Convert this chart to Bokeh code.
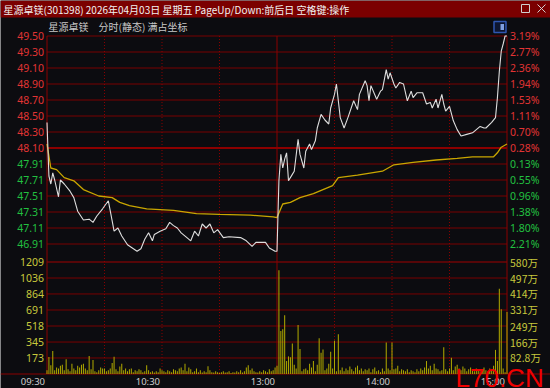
from bokeh.plotting import figure
from bokeh.models import Range1d
from bokeh.core.properties import value
from bokeh.embed import file_html
from bokeh.resources import INLINE

# ---------------- data ----------------
title_text = "星源卓镁(301398) 2026年04月03日 星期五 PageUp/Down:前后日 空格键:操作"
subtitle_text = "星源卓镁\u3000分时(静态) 满占坐标"
watermark_text = "L70.CN"

price_ticks = [49.50, 49.30, 49.10, 48.90, 48.70, 48.50, 48.30, 48.10,
               47.90, 47.70, 47.50, 47.30, 47.10, 46.90]
price_labels = ["49.50", "49.30", "49.10", "48.90", "48.70", "48.50", "48.30", "48.10",
                "47.91", "47.71", "47.51", "47.31", "47.11", "46.91"]
pct_labels = ["3.19%", "2.77%", "2.36%", "1.94%", "1.53%", "1.11%", "0.70%", "0.28%",
              "0.13%", "0.55%", "0.96%", "1.38%", "1.80%", "2.21%"]
price_up = [True] * 8 + [False] * 6
base_price = 48.10

vol_ticks = [1209, 1036, 864, 691, 518, 345, 173]
vol_labels_left = ["1209", "1036", "864", "691", "518", "345", "173"]
vol_labels_right = ["580万", "497万", "414万", "331万", "249万", "166万", "82.8万"]

time_ticks = [0, 60, 120, 180, 240]
time_labels = ["09:30", "10:30", "13:00", "14:00", "15:00"]
half_hour_lines = [30, 60, 90, 150, 180, 210]
session_edges = [0, 120, 240]

# (minute since 09:30, price)
price_points = [
    (0, 48.42), (1, 47.75), (2, 47.65), (3, 47.79), (4, 47.70), (6, 47.49), (7, 47.70),
    (9, 47.65), (12, 47.56), (14, 47.48), (16, 47.31), (19, 47.20), (22, 47.21),
    (24, 47.17), (26, 47.25), (29, 47.34), (32, 47.44), (34, 47.19), (35, 47.06),
    (37, 47.10), (39, 47.00), (42, 46.89), (47, 46.81), (49, 46.84), (51, 46.96),
    (53, 47.04), (55, 46.94), (56, 47.02), (59, 47.06), (62, 47.09), (64, 47.17),
    (66, 47.13), (68, 47.10), (70, 47.04), (73, 46.98), (75, 46.94), (77, 47.06),
    (79, 47.00), (81, 47.15), (83, 47.10), (85, 47.15), (87, 47.04), (89, 47.08),
    (92, 46.98), (95, 46.99), (101, 46.98), (104, 46.94), (107, 46.87), (109, 46.92),
    (114, 46.92), (116, 46.85), (119, 46.81), (120, 46.81),
    (121, 47.69), (122, 48.02), (123, 47.85), (124, 47.96), (125, 48.04), (126, 47.69),
    (128, 47.77), (129, 47.81), (131, 48.21), (132, 48.02), (134, 47.85), (135, 48.06),
    (137, 48.15), (138, 48.08), (140, 48.19), (141, 48.35), (143, 48.52), (145, 48.45),
    (147, 48.40), (148, 48.60), (150, 48.77), (151, 48.90), (153, 48.48), (155, 48.35),
    (157, 48.48), (160, 48.69), (162, 48.58), (163, 48.77), (166, 48.94), (167, 48.88),
    (168, 48.69), (169, 48.88), (172, 48.71), (174, 48.81), (175, 48.83), (177, 49.08),
    (178, 48.96), (179, 49.04), (181, 48.90), (182, 48.85), (184, 48.92), (186, 48.90),
    (188, 48.69), (190, 48.81), (191, 48.73), (193, 48.79), (196, 48.79), (198, 48.65),
    (200, 48.67), (201, 48.60), (203, 48.71), (204, 48.60), (206, 48.77), (207, 48.65),
    (208, 48.56), (210, 48.62), (212, 48.44), (214, 48.33), (216, 48.25), (219, 48.27),
    (222, 48.29), (224, 48.33), (226, 48.37), (228, 48.35), (229, 48.35), (232, 48.42),
    (234, 48.48), (235, 48.73), (236, 49.06), (237, 49.31), (238, 49.40), (239, 49.50),
    (240, 49.50),
]
price_minute = [m for m, _ in price_points]
price_value = [v for _, v in price_points]

avg_minute = [0, 2, 5, 9, 14, 19, 27, 34, 38, 43, 52, 66, 78, 90, 106, 118, 120,
              123, 127, 132, 139, 144, 149, 152, 162, 175, 181, 191, 203, 214, 222,
              233, 235, 237, 240]
avg_value = [48.15, 47.85, 47.83, 47.73, 47.69, 47.58, 47.50, 47.48, 47.42, 47.38,
             47.34, 47.32, 47.28, 47.27, 47.26, 47.24, 47.23,
             47.40, 47.42, 47.48, 47.53, 47.58, 47.63, 47.73, 47.76, 47.81, 47.89,
             47.92, 47.95, 47.97, 47.99, 47.99, 48.04, 48.11, 48.15]

volume = [
    40, 184, 95, 248, 40, 70, 60, 90, 100, 40,
    160, 50, 30, 110, 60, 40, 90, 70, 100, 110,
    60, 40, 195, 50, 150, 30, 20, 40, 70, 60,
    60, 30, 40, 60, 120, 185, 50, 30, 80, 110,
    40, 60, 30, 50, 60, 20, 40, 30, 50, 40,
    20, 30, 95, 40, 20, 30, 15, 30, 20, 60,
    40, 30, 20, 40, 30, 20, 50, 40, 30, 60,
    70, 40, 110, 30, 70, 50, 20, 30, 60, 20,
    40, 15, 30, 20, 85, 40, 20, 15, 30, 20,
    10, 20, 30, 15, 20, 30, 10, 20, 15, 30,
    20, 40, 15, 30, 70, 95, 40, 60, 30, 20,
    15, 30, 20, 40, 30, 20, 50, 30, 40, 70,
    90, 1119, 464, 483, 634, 140, 190, 180, 330, 100,
    60, 530, 270, 30, 50, 60, 40, 110, 70, 140,
    30, 100, 385, 230, 265, 40, 60, 110, 240, 60,
    360, 30, 430, 40, 70, 30, 60, 40, 80, 50,
    30, 70, 90, 40, 60, 30, 50, 40, 60, 20,
    50, 70, 30, 40, 20, 60, 30, 340, 60, 40,
    340, 50, 60, 90, 30, 50, 40, 30, 50, 20,
    40, 30, 20, 50, 30, 60, 40, 70, 140, 60,
    90, 40, 110, 60, 50, 30, 40, 290, 50, 30,
    60, 175, 40, 80, 100, 60, 40, 80, 60, 30,
    50, 70, 40, 30, 60, 40, 30, 50, 70, 40,
    30, 60, 40, 90, 260, 140, 920, 700, 60, 20,
    670,
]
vol_minute = list(range(len(volume)))

# ---------------- layout / style ----------------
W, H = 550, 388
FRAME_L, FRAME_R = 46.5, 506.5
SESSION_MIN = 240
PRICE_TOP_PX = 35.5
PRICE_PX_PER_UNIT = 80.0
VOL_BASE_PX = 373.5
VOL_TOP_PX = 261.5
TITLE_H = 17

BG = "#0c0c10"
TITLE_BG = "#7b0000"
GRID = "#780000"
FRAME = "#8a0000"
RED = "#e23434"
GREEN = "#22c040"
YELLOW = "#c8c83c"
LIGHT = "#cfcfcf"

ppm = (FRAME_R - FRAME_L) / SESSION_MIN


def mx(px):
    return (px - FRAME_L) / ppm


vol_px_per_unit = (VOL_BASE_PX - VOL_TOP_PX) / vol_ticks[0]
top_price = price_ticks[0]

x_range = Range1d(mx(0), mx(W))
y_px = Range1d(H, 0)
price_rng = Range1d(top_price - (H - PRICE_TOP_PX) / PRICE_PX_PER_UNIT,
                    top_price + PRICE_TOP_PX / PRICE_PX_PER_UNIT)
vol_rng = Range1d(-(H - VOL_BASE_PX) / vol_px_per_unit, VOL_BASE_PX / vol_px_per_unit)

p = figure(width=W, height=H, x_range=x_range, y_range=y_px,
           x_axis_type=None, y_axis_type=None, toolbar_location=None,
           output_backend="svg", min_border=0)
p.extra_y_ranges = {"price": price_rng, "vol": vol_rng}
p.background_fill_color = BG
p.border_fill_color = BG
p.outline_line_color = None

# header bar
p.quad(left=mx(0), right=mx(W), top=0, bottom=TITLE_H, fill_color=TITLE_BG, line_color=None)

# horizontal grid: price panel
p.segment(x0=0, x1=SESSION_MIN, y0=price_ticks, y1=price_ticks, y_range_name="price",
          line_color=GRID, line_width=1)
p.segment(x0=0, x1=SESSION_MIN, y0=base_price, y1=base_price, y_range_name="price",
          line_color="#8c0000", line_width=2)
# horizontal grid: volume panel
p.segment(x0=0, x1=SESSION_MIN, y0=vol_ticks[1:], y1=vol_ticks[1:], y_range_name="vol",
          line_color=GRID, line_width=1)
p.segment(x0=0, x1=SESSION_MIN, y0=vol_ticks[0], y1=vol_ticks[0], y_range_name="vol",
          line_color="#a00000", line_width=1)
p.segment(x0=mx(0), x1=mx(W), y0=0, y1=0, y_range_name="vol",
          line_color=FRAME, line_width=1)

# vertical lines
p.segment(x0=half_hour_lines, x1=half_hour_lines, y0=PRICE_TOP_PX, y1=VOL_BASE_PX,
          line_color="#8a0000", line_width=1, line_dash="1 2")
p.segment(x0=session_edges, x1=session_edges, y0=PRICE_TOP_PX, y1=VOL_BASE_PX,
          line_color=FRAME, line_width=1)

# volume bars
p.vbar(x=vol_minute, top=volume, bottom=0, width=0.55, y_range_name="vol",
       fill_color="#aaa400", line_color=None)

# average and price lines
p.line(avg_minute, avg_value, y_range_name="price", line_color="#c9a600", line_width=1.3)
p.line(price_minute, price_value, y_range_name="price", line_color="#dedede", line_width=1.1)

num_font = value("Noto Sans")
cjk_font = value("Noto Sans CJK SC")
price_colors = [RED if up else GREEN for up in price_up]

# price axis labels
p.text(x=[0] * len(price_ticks), y=price_ticks, text=price_labels, y_range_name="price",
       x_offset=-3, text_align="right", text_baseline="middle",
       text_color=price_colors, text_font=num_font, text_font_size="10.5px")
p.text(x=[SESSION_MIN] * len(price_ticks), y=price_ticks, text=pct_labels, y_range_name="price",
       x_offset=3, text_align="left", text_baseline="middle",
       text_color=price_colors, text_font=num_font, text_font_size="10.5px")
# volume axis labels
p.text(x=[0] * len(vol_ticks), y=vol_ticks, text=vol_labels_left, y_range_name="vol",
       x_offset=-3, text_align="right", text_baseline="middle",
       text_color=YELLOW, text_font=num_font, text_font_size="10.5px")
p.text(x=[SESSION_MIN] * len(vol_ticks), y=vol_ticks, text=vol_labels_right, y_range_name="vol",
       x_offset=3, text_align="left", text_baseline="middle",
       text_color=YELLOW, text_font=cjk_font, text_font_size="10.5px")
# time labels
p.text(x=time_ticks, y=[380.5] * len(time_ticks), text=time_labels,
       x_offset=-2, text_align="right", text_baseline="middle",
       text_color=LIGHT, text_font=num_font, text_font_size="9.5px")

# header texts
p.text(x=[mx(3)], y=[8.5], text=[title_text], text_align="left", text_baseline="middle",
       text_color="#f2f2f2", text_font=cjk_font, text_font_size="10px")
p.text(x=[mx(48)], y=[26], text=[subtitle_text], text_align="left", text_baseline="middle",
       text_color="#c8c8c8", text_font=cjk_font, text_font_size="10px")
# window buttons
p.quad(left=mx(521), right=mx(529), top=4, bottom=12, fill_color=None,
       line_color="#d0d0d0", line_width=1)
p.segment(x0=[mx(537), mx(537)], x1=[mx(545), mx(545)], y0=[4, 12], y1=[12, 4],
          line_color="#d0d0d0", line_width=1)
# small blue toggle icon
p.quad(left=mx(493.5), right=mx(505.5), top=21, bottom=32, fill_color="#0e1630",
       line_color="#2f56b0", line_width=1.5)
p.quad(left=mx(500), right=mx(503.5), top=23.5, bottom=29.5, fill_color="#7f9fe0",
       line_color=None)

# watermark
p.text(x=[mx(455)], y=[377], text=[watermark_text], text_align="left",
       text_baseline="alphabetic", text_color="#f00000",
       text_font=value("Liberation Sans"), text_font_size="26px")

open("out.html", "w").write(file_html(p, INLINE))
